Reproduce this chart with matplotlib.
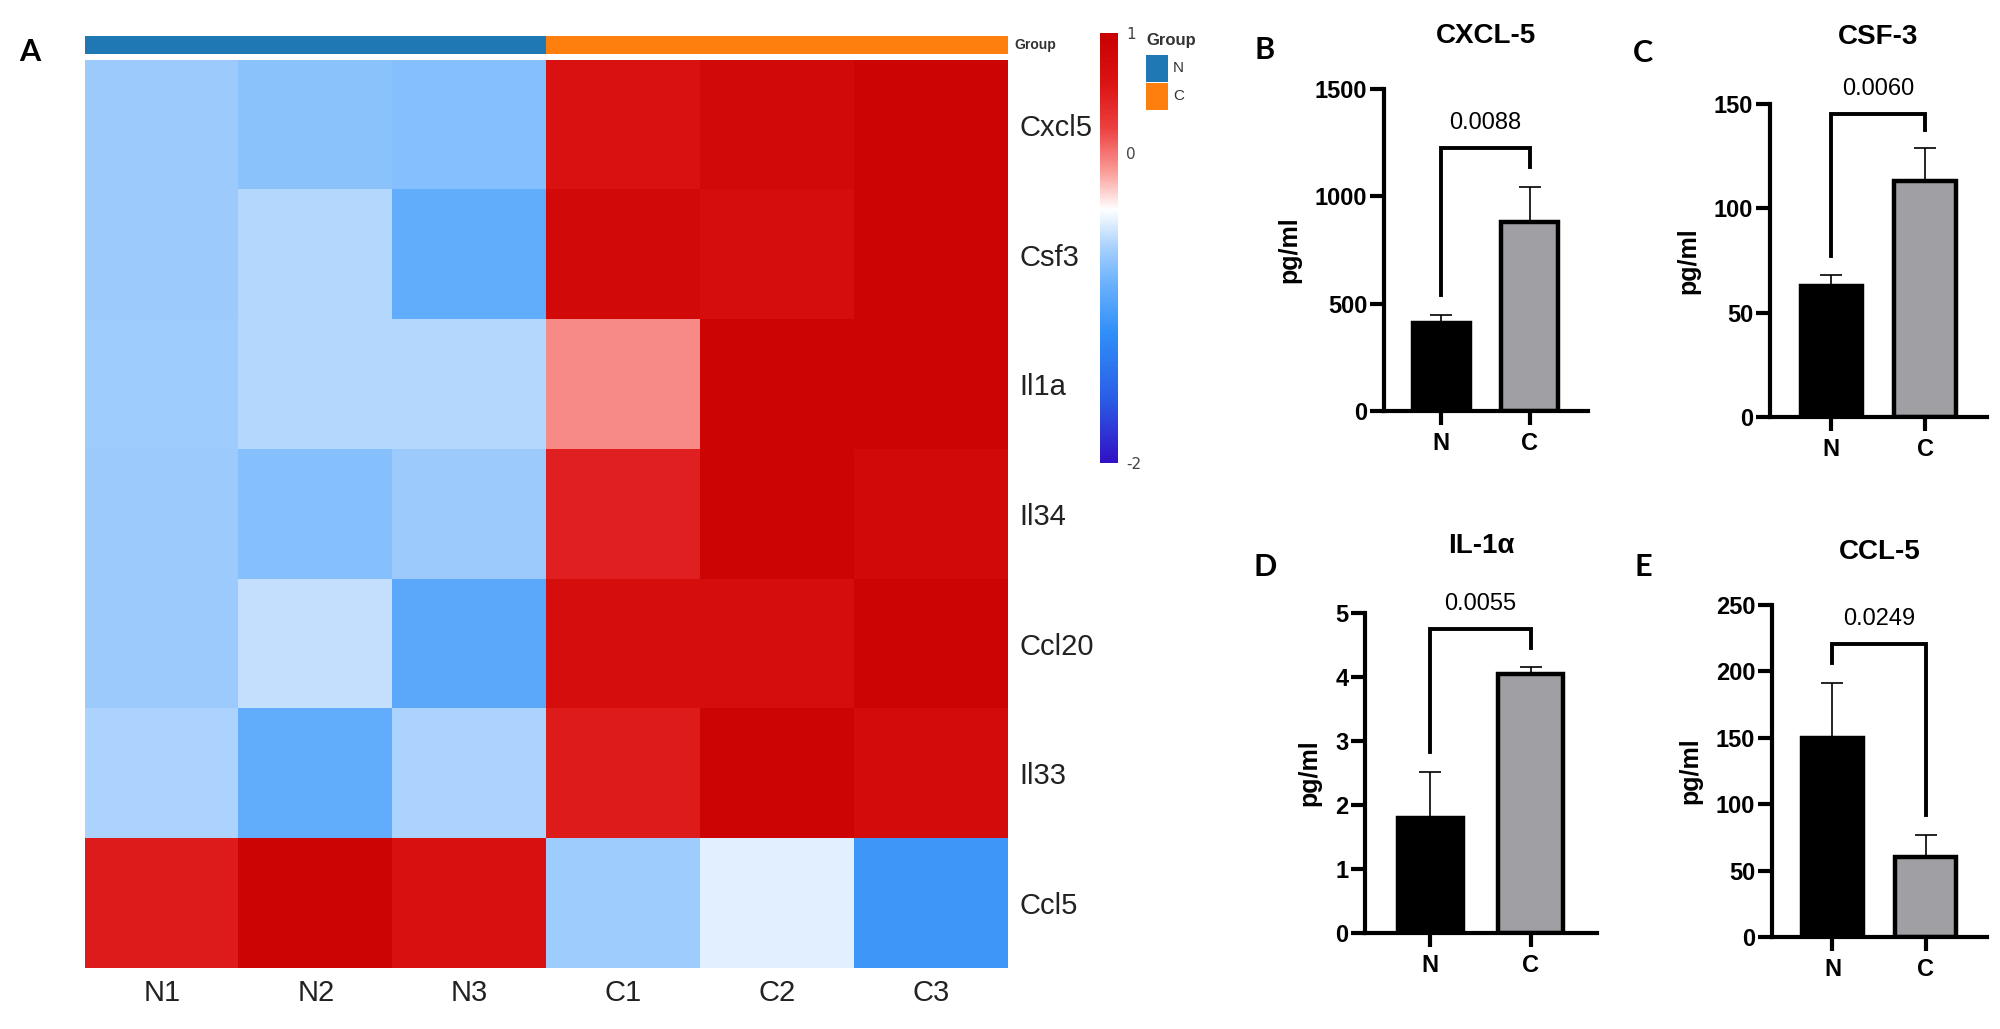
import numpy as np
import matplotlib
matplotlib.use('Agg')
import matplotlib.pyplot as plt
from matplotlib import colors
from matplotlib.patches import Rectangle

plt.rcParams['axes.unicode_minus'] = False

# heatmap data (row z-scores)
genes = ['Cxcl5', 'Csf3', 'Il1a', 'Il34', 'Ccl20', 'Il33', 'Ccl5']
samples = ['N1', 'N2', 'N3', 'C1', 'C2', 'C3']
sample_group = [0, 0, 0, 1, 1, 1]
group_names = ['N', 'C']
zscores = np.array([
    [-0.65, -0.71, -0.74, 0.61, 0.79, 0.89],
    [-0.65, -0.57, -0.89, 0.79, 0.71, 0.89],
    [-0.64, -0.57, -0.57, -0.06, 0.89, 0.89],
    [-0.65, -0.74, -0.65, 0.46, 0.89, 0.79],
    [-0.65, -0.53, -0.92, 0.71, 0.71, 0.89],
    [-0.60, -0.89, -0.60, 0.50, 0.89, 0.75],
    [0.50, 0.89, 0.65, -0.64, -0.44, -1.08],
])

# bar panels
groups = ['N', 'C']
titles = ['CXCL-5', 'CSF-3', 'IL-1α', 'CCL-5']
letters = ['B', 'C', 'D', 'E']
means = [[410, 880], [63, 113], [1.8, 4.05], [150, 60]]
errs = [[37, 165], [5, 16], [0.72, 0.1], [41, 17]]
pvals = ['0.0088', '0.0060', '0.0055', '0.0249']
bracket_top = [1225, 145, 4.75, 221]
bracket_legs = [[540, 1137], [77, 137.5], [2.83, 4.45], [206, 92]]
ymaxes = [1500, 150, 5, 250]
ysteps = [500, 50, 1, 50]

W, H = 2000, 1029
fig = plt.figure(figsize=(20, 10.29), dpi=100)


def px_axes(x0, y0, x1, y1):
    return fig.add_axes([x0 / W, 1 - y1 / H, (x1 - x0) / W, (y1 - y0) / H])


hm_font = ['Liberation Sans Narrow', 'Liberation Sans', 'DejaVu Sans']
blue_grp, orange_grp = '#1f77b4', '#ff7f0e'
grp_cols = [blue_grp, orange_grp]

# colour scale: 0 sits ~72% up the bar, -2 bottom, 1 top
pos_pts = [0.0, 0.15, 0.30, 0.42, 0.50, 0.59, 0.68, 0.78, 0.88, 1.0]
pos_cols = ['#3210c4', '#2a5ee6', '#2f8ef8', '#6cb2fc', '#a6d0fd', '#ffffff',
            '#fa9a96', '#ec4040', '#dc1414', '#c80000']
cmap = colors.LinearSegmentedColormap.from_list('hm', list(zip(pos_pts, pos_cols)))
fwd = lambda v: np.interp(v, [-2, 0, 1], [0, 0.72, 1])
inv = lambda p: np.interp(p, [0, 0.72, 1], [-2, 0, 1])
norm = colors.FuncNorm((fwd, inv), vmin=-2, vmax=1)

ax = px_axes(85, 60, 1008, 968)
im = ax.imshow(zscores, cmap=cmap, norm=norm, aspect='auto', interpolation='nearest')
ax.set_xticks(range(len(samples)))
ax.set_xticklabels(samples, family=hm_font, fontsize=21, color='#222222')
ax.set_yticks(range(len(genes)))
ax.set_yticklabels(genes, family=hm_font, fontsize=21, color='#222222')
ax.yaxis.tick_right()
ax.tick_params(length=0, pad=8)
for s in ax.spines.values():
    s.set_visible(False)

# group annotation strip
gax = px_axes(85, 36, 1008, 54)
gax.imshow([sample_group], cmap=colors.ListedColormap(grp_cols),
           aspect='auto', interpolation='nearest')
gax.set_xticks([])
gax.set_yticks([])
for s in gax.spines.values():
    s.set_visible(False)
fig.text(1014 / W, 1 - 45 / H, 'Group', fontsize=10, fontweight='bold',
         family='Liberation Sans', color='#333333', va='center')

# colour bar
cax = px_axes(1100, 33, 1118, 463)
cb = fig.colorbar(im, cax=cax, ticks=[-2, 0, 1])
cb.outline.set_visible(False)
cb.ax.tick_params(length=0, labelsize=11, labelcolor='#444444', pad=6)

# group legend
fig.text(1146 / W, 1 - 40 / H, 'Group', fontsize=12, fontweight='bold',
         family='Liberation Sans', color='#333333', va='center')
for k, name in enumerate(group_names):
    y0 = 55 + k * 28
    fig.add_artist(Rectangle((1146 / W, 1 - (y0 + 27) / H), 22 / W, 27 / H,
                             transform=fig.transFigure, color=grp_cols[k], lw=0))
    fig.text(1173 / W, 1 - (y0 + 13) / H, name, fontsize=11, family='Liberation Sans',
             color='#333333', va='center')

fig.text(30 / W, 1 - 52 / H, 'A', fontsize=22, fontweight='bold', family='Lato',
         ha='center', va='center')

# bar panels
rects = [(1384, 89, 1588, 411), (1770, 104, 1987, 417),
         (1365, 613, 1597, 933), (1772, 605, 1987, 937)]
title_pads = [33, 43, 43, 33]
letter_pos = [(1265, 50), (1643, 53), (1265, 567), (1643, 567)]

for i in range(4):
    bx = px_axes(*rects[i])
    x = np.arange(len(groups))
    bx.errorbar(x, means[i], yerr=[[0, 0], errs[i]], fmt='none', ecolor='black',
                elinewidth=1.2, capsize=8, capthick=1.2, zorder=1)
    bx.bar(x, means[i], width=0.65, color=['black', '#a0a0a4'], edgecolor='black',
           linewidth=3.2, zorder=2)
    top = bracket_top[i]
    bx.plot([0, 0, 1, 1], [bracket_legs[i][0], top, top, bracket_legs[i][1]],
            color='black', lw=2.8, clip_on=False, solid_joinstyle='miter')
    bx.annotate(pvals[i], xy=(0.5, top), xytext=(0, 18), textcoords='offset points',
                ha='center', va='center', fontsize=17, family='Liberation Sans',
                annotation_clip=False)
    bx.set_xlim(-0.65, 1.66)
    bx.set_ylim(0, ymaxes[i])
    bx.set_yticks(np.arange(0, ymaxes[i] + ysteps[i] / 2, ysteps[i]))
    bx.set_xticks(x)
    bx.set_xticklabels(groups)
    for lab in bx.get_xticklabels() + bx.get_yticklabels():
        lab.set_fontweight('bold')
        lab.set_family('Liberation Sans')
        lab.set_fontsize(17)
    bx.tick_params(axis='y', length=10, width=3, pad=2)
    bx.tick_params(axis='x', length=10, width=3, pad=5)
    bx.spines['top'].set_visible(False)
    bx.spines['right'].set_visible(False)
    bx.spines['left'].set_linewidth(3)
    bx.spines['bottom'].set_linewidth(3)
    bx.set_ylabel('pg/ml', fontsize=18, fontweight='bold', family='Liberation Sans',
                  labelpad=10)
    bx.set_title(titles[i], fontsize=20, fontweight='bold', family='Liberation Sans',
                 pad=title_pads[i])
    lx, ly = letter_pos[i]
    fig.text(lx / W, 1 - ly / H, letters[i], fontsize=22, fontweight='bold',
             family='Lato', ha='center', va='center')

fig.savefig('out.png', dpi=100, facecolor='white')
